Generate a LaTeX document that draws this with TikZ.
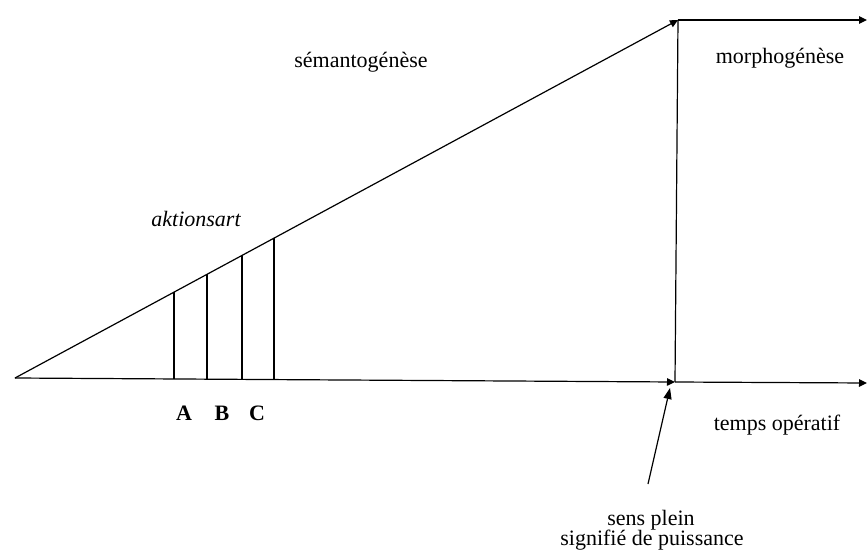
\documentclass[tikz,border=0pt]{standalone}
\usepackage{fontspec}
\setmainfont{Liberation Serif}
\usetikzlibrary{arrows.meta,calc,positioning}
\tikzset{
  trait/.style={
    line width=1.2pt,
    black
  },
  arrow/.style={
    -{Triangle[length=8pt,width=7.5pt]},
    line width=1.2pt,
    black
  },
  etiquette/.style={
    align=center,
    inner sep=0pt,
    anchor=base,
    font=\fontsize{22}{20}\selectfont
  },
  lettre/.style={
    inner sep=0pt,
    anchor=base,
    font=\fontsize{22}{20}\selectfont\bfseries
  }
}

\begin{document}
\begin{tikzpicture}[x=1pt,y=-1pt]
\useasboundingbox (0,0) rectangle (868,559);
\coordinate (origine) at (15,378);
\coordinate (sommet) at (678,20);
\coordinate (pied) at (675,382);
\coordinate (finhaut) at (867,20);
\coordinate (finbas) at (867,383);
\coordinate (pointe) at (670,388);
\coordinate (queue) at (648,484);
% triangle
\draw[arrow] (origine) -- (sommet);
\draw[arrow] (origine) -- (pied);
\draw[trait] (pied) -- (sommet);
\draw[arrow] (sommet) -- (finhaut);
\draw[arrow] (pied) -- (finbas);
% traits verticaux
\foreach \x in {174,207,242,274}
  \draw[trait] (\x,{378+(\x-15)*0.006}) -- (\x,{378-(\x-15)*0.54});
\node[lettre] (A) at (184,420) {A};
\node[lettre] (B) at (222,420) {B};
\node[lettre] (C) at (257,420) {C};
\node[etiquette] (semanto) at (361,68) {sémantogénèse};
\node[etiquette,font=\fontsize{22}{20}\selectfont\itshape] (aktion) at (196,226) {aktionsart};
\node[etiquette] (morpho) at (780,64) {morphogénèse};
\node[etiquette] (temps) at (777,430) {temps opératif};
\node[etiquette] (sens) at (651,525) {sens plein};
\node[etiquette] (puiss) at (652,545) {signifié de puissance};
\draw[arrow,-{Triangle[length=11pt,width=8pt]}] (queue) -- (pointe);
\end{tikzpicture}
\end{document}
